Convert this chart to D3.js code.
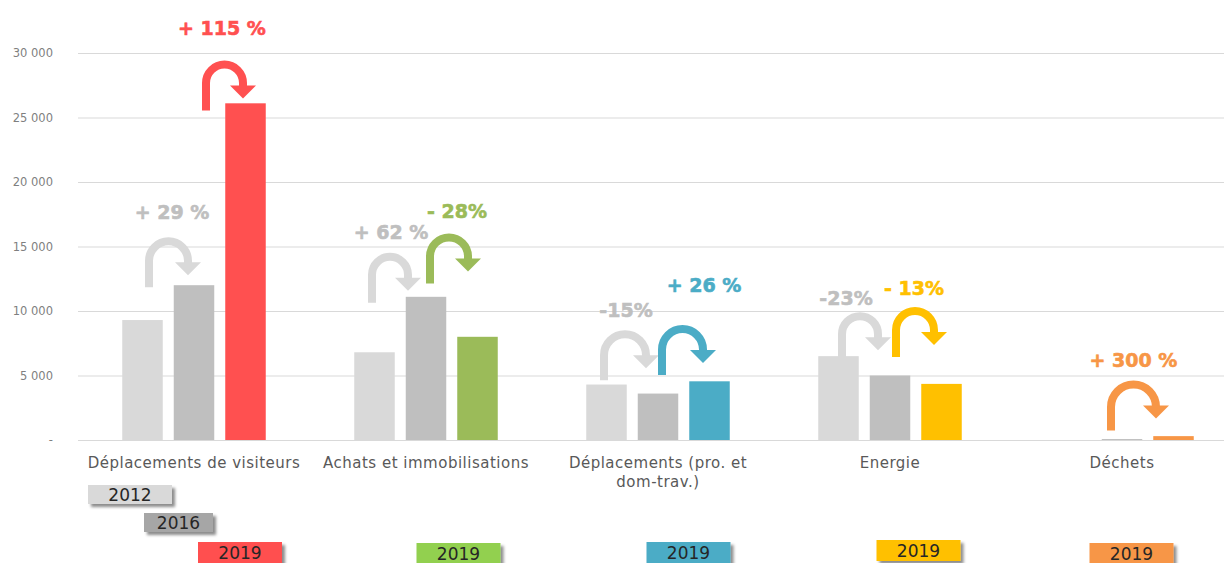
<!DOCTYPE html>
<html><head><meta charset="utf-8">
<script src="https://cdn.jsdelivr.net/npm/d3@7"></script>
<style>html,body{margin:0;padding:0;background:#fff;}svg{display:block;}</style>
</head><body>
<svg id="chart" width="1224" height="563"></svg>
<script>
// ---- data ----
const categories = ["Déplacements de visiteurs", "Achats et immobilisations", "Déplacements (pro. et|dom-trav.)", "Energie", "Déchets"];
const years = ["2012", "2016", "2019"];
const values2012 = [9300, 6800, 4300, 6500, null];
const values2016 = [12000, 11100, 3600, 5000, 75];
const values2019 = [26100, 8000, 4550, 4350, 300];
const yTicks = [0, 5000, 10000, 15000, 20000, 25000, 30000];
const annotationTexts = ["+ 29 %", "+ 115 %", "+ 62 %", "- 28%", "-15%", "+ 26 %", "-23%", "- 13%", "+ 300 %"];
const annotationGroup = [0, 0, 1, 1, 2, 2, 3, 3, 4];
const annotationFrom = [0, 1, 0, 1, 0, 1, 0, 1, 1];
const annotationTo   = [1, 2, 1, 2, 1, 2, 1, 2, 2];

// ---- layout / style (not data) ----
const arrowTopValue = [15400, 29100, 14200, 15700, 8200, 8600, 9600, 10000, 4300];
const arrowDx0 = [6.5, 12, -2.5, 4, -2.5, 4, 3.5, 6, -11];
const arrowDx1 = [-6, -2.5, -18, -9.5, -12, -6.5, -12, -7.5, -17.5];
const labelDx = [3.5, -2.5, 1, 8, 1, 21.5, -14, -1, 0];
const labelValue = [17674, 31938, 16124, 17752, 10078, 12016, 11008, 11783, 6202];
const color2012 = "#D9D9D9", color2016 = "#BFBFBF";
const color2019 = ["#FF5050", "#9BBB59", "#4BACC6", "#FFC000", "#F79646"];
const legend2019Colors = ["#FF5050", "#92D050", "#4BACC6", "#FFC000", "#F79646"];
const legend2019Dx = [46, 32.5, 30.5, 28.5, 9.5];
const legend2019Y = [542, 543, 542, 540, 543];

const svg = d3.select("#chart");
const x0 = d3.scaleBand().domain(d3.range(categories.length)).range([78, 1238]);
const barStep = 51.5, pad = 11 / 51.5;
const x1 = d3.scaleBand().domain(years).range([-barStep * 1.5, barStep * 1.5]).paddingInner(pad).paddingOuter(pad / 2);
const y = d3.scaleLinear().domain([0, 30000]).range([440, 53]);
const cx = i => x0(i) + x0.bandwidth() / 2;

// defs
const defs = svg.append("defs");
const f = defs.append("filter").attr("id", "shadow").attr("x", "-20%").attr("y", "-30%").attr("width", "150%").attr("height", "190%");
f.append("feDropShadow").attr("dx", 3).attr("dy", 3).attr("stdDeviation", 1.6).attr("flood-color", "#000").attr("flood-opacity", 0.45);

// grid + axis
const axis = d3.axisLeft(y).tickValues(yTicks).tickSize(0).tickPadding(0)
  .tickFormat(d => d === 0 ? "-" : d3.format(",")(d).replace(/,/g, " "));
const gAxis = svg.append("g").attr("transform", "translate(53,0)").call(axis);
gAxis.select(".domain").remove();
gAxis.selectAll("text").attr("font-family", "DejaVu Sans").attr("font-size", 11.5).attr("fill", "#7F7F7F");
svg.append("g").selectAll("line").data(yTicks).join("line")
  .attr("x1", 78).attr("x2", 1224).attr("y1", d => y(d) + 0.5).attr("y2", d => y(d) + 0.5)
  .attr("stroke", "#D9D9D9").attr("stroke-width", 1.2);

// bars
const series = [values2012, values2016, values2019];
categories.forEach((c, i) => {
  const g = svg.append("g").attr("transform", `translate(${cx(i)},0)`);
  years.forEach((yr, k) => {
    const v = series[k][i];
    if (v == null) return;
    g.append("rect").attr("x", x1(yr)).attr("width", x1.bandwidth())
      .attr("y", y(v)).attr("height", y(0) - y(v))
      .attr("fill", k === 0 ? color2012 : k === 1 ? color2016 : color2019[i]);
  });
});

// category labels
categories.forEach((c, i) => {
  const t = svg.append("text").attr("x", cx(i)).attr("y", 468).attr("text-anchor", "middle")
    .attr("font-family", "DejaVu Sans").attr("font-size", 15).attr("letter-spacing", 0.5).attr("fill", "#595959");
  c.split("|").forEach((line, j) => t.append("tspan").attr("x", cx(i)).attr("dy", j === 0 ? 0 : 19).text(line));
});

// annotations
annotationTexts.forEach((txt, a) => {
  const gi = annotationGroup[a];
  const isGray = annotationFrom[a] === 0;
  const col = isGray ? "#D9D9D9" : color2019[gi];
  const tcol = isGray ? "#BFBFBF" : color2019[gi];
  const xa = cx(gi) + x1(years[annotationFrom[a]]) + x1.bandwidth() / 2 + arrowDx0[a];
  const xb = cx(gi) + x1(years[annotationTo[a]]) + x1.bandwidth() / 2 + arrowDx1[a];
  const yT = y(arrowTopValue[a]);
  const r = (xb - xa) / 2;
  const tip = yT + 34, base = yT + 21, bottom = yT + 46;
  svg.append("path")
    .attr("d", `M${xa},${bottom} L${xa},${yT + r} A${r},${r} 0 0 1 ${xb},${yT + r} L${xb},${Math.max(base, yT + r) + 1}`)
    .attr("fill", "none").attr("stroke", col).attr("stroke-width", 8);
  svg.append("path")
    .attr("d", `M${xb - 13},${base} L${xb + 13},${base} L${xb},${tip} Z`).attr("fill", col);
  svg.append("text").attr("x", (xa + xb) / 2 + labelDx[a]).attr("y", y(labelValue[a]) + 7)
    .attr("text-anchor", "middle").attr("font-family", "DejaVu Sans").attr("font-weight", "bold")
    .attr("font-size", 19).attr("stroke", tcol).attr("stroke-width", 0.6).attr("fill", tcol).text(txt);
});

// legend boxes
function legendBox(cxp, ytop, w, h, fill, label) {
  const g = svg.append("g");
  g.append("rect").attr("x", cxp - w / 2).attr("y", ytop).attr("width", w).attr("height", h)
    .attr("fill", fill).attr("filter", "url(#shadow)");
  g.append("text").attr("x", cxp).attr("y", ytop + h / 2 + 6).attr("text-anchor", "middle")
    .attr("font-family", "DejaVu Sans").attr("font-size", 17).attr("fill", "#262626").text(label);
}
legendBox(cx(0) - 64, 485, 84, 19, "#D9D9D9", years[0]);
legendBox(cx(0) - 15.5, 513, 69, 19, "#A6A6A6", years[1]);
categories.forEach((c, i) => legendBox(cx(i) + legend2019Dx[i], legend2019Y[i], 84, 21, legend2019Colors[i], years[2]));
</script>
</body></html>
